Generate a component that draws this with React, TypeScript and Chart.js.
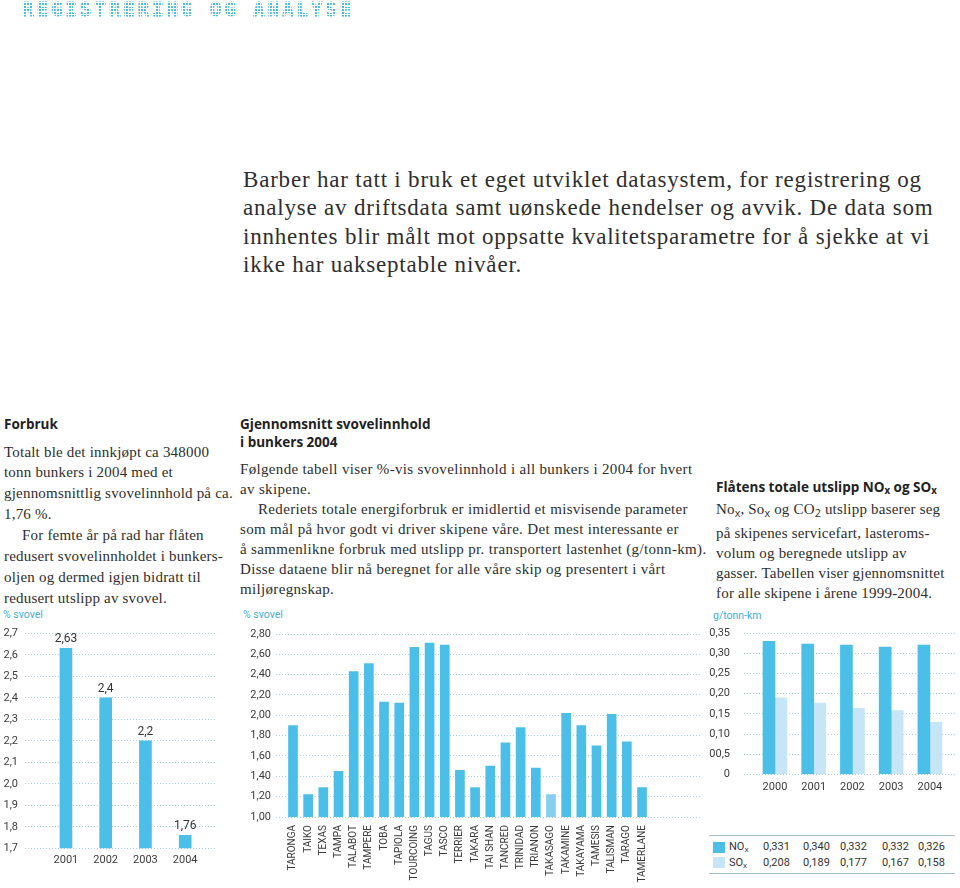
import React, { useEffect, useRef } from 'react';
import { Chart, registerables } from 'chart.js';

Chart.register(...registerables);

// ---------- Chart 1: % svovel per year ----------
const sulphurYears = [2001, 2002, 2003, 2004];
const sulphurByYear = [2.63, 2.4, 2.2, 1.76];
const sulphurYearTicks = [1.7, 1.8, 1.9, 2.0, 2.1, 2.2, 2.3, 2.4, 2.5, 2.6, 2.7];
const sulphurYearTickLabels = ['1,7', '1,8', '1,9', '2,0', '2,1', '2,2', '2,3', '2,4', '2,5', '2,6', '2,7'];

// ---------- Chart 2: % svovel per ship 2004 ----------
const ships = [
  'TARONGA', 'TAIKO', 'TEXAS', 'TAMPA', 'TALABOT', 'TAMPERE', 'TOBA', 'TAPIOLA',
  'TOURCOING', 'TAGUS', 'TASCO', 'TERRIER', 'TAKARA', 'TAI SHAN', 'TANCRED', 'TRINIDAD',
  'TRIANON', 'TAKASAGO', 'TAKAMINE', 'TAKAYAMA', 'TAMESIS', 'TALISMAN', 'TARAGO', 'TAMERLANE',
];
const shipSulphur = [
  1.90, 1.22, 1.29, 1.45, 2.43, 2.51, 2.13, 2.12,
  2.67, 2.71, 2.69, 1.46, 1.29, 1.50, 1.73, 1.88,
  1.48, 1.22, 2.02, 1.90, 1.70, 2.01, 1.74, 1.29,
];
const highlightedShip = 'TAKASAGO';
const shipTicks = [1.0, 1.2, 1.4, 1.6, 1.8, 2.0, 2.2, 2.4, 2.6, 2.8];
const shipTickLabels = ['1,00', '1,20', '1,40', '1,60', '1,80', '2,00', '2,20', '2,40', '2,60', '2,80'];

// ---------- Chart 3: NOx / SOx g/tonn-km ----------
const emissionYears = [2000, 2001, 2002, 2003, 2004];
const noxBars = [0.330, 0.323, 0.321, 0.316, 0.321];
const soxBars = [0.190, 0.177, 0.164, 0.158, 0.129];
const emissionTicks = [0, 0.05, 0.1, 0.15, 0.2, 0.25, 0.3, 0.35];
const emissionTickLabels = ['0', '00,5', '0,10', '0,15', '0,20', '0,25', '0,30', '0,35'];
const noxTable = ['0,331', '0,340', '0,332', '0,332', '0,326'];
const soxTable = ['0,208', '0,189', '0,177', '0,167', '0,158'];

// ---------- styles ----------
const BAR = '#4cbfe8';
const BAR_LIGHT = '#c6e6f8';
const BAR_HL = '#86cff1';
const GRID = '#a9d3e1';
const TICK = '#3c3c3c';
const ACCENT = '#43aed3';
const SANS = 'Roboto, "DejaVu Sans", sans-serif';
const HEAD = '"Open Sans", Roboto, sans-serif';
const SERIF = '"Liberation Serif", "DejaVu Serif", serif';

const comma = (v: number) => String(v).replace('.', ',');

function fixY(width: number) {
  return (s: any) => {
    s.width = width;
    s.paddingTop = 0;
    s.paddingBottom = 0;
    s.paddingLeft = 0;
    s.paddingRight = 0;
  };
}
function fixX(height: number) {
  return (s: any) => {
    s.height = height;
    s.paddingLeft = 0;
    s.paddingRight = 0;
    s.paddingTop = 0;
    s.paddingBottom = 0;
  };
}

function yScale(min: number, max: number, ticks: number[], labels: string[], width: number, pad: number) {
  return {
    type: 'linear',
    min,
    max,
    afterBuildTicks: (s: any) => {
      s.ticks = ticks.map((v) => ({ value: v }));
    },
    afterFit: fixY(width),
    ticks: {
      padding: pad,
      color: TICK,
      font: { family: SANS, size: 11 },
      callback: (_v: any, i: number) => labels[i],
    },
    grid: { color: GRID, lineWidth: 1, drawTicks: false },
    border: { display: false, dash: [1, 2] },
  };
}

function xScale(min: number, max: number, values: number[], labels: string[], height: number, pad: number, extra: any = {}) {
  return {
    type: 'linear',
    min,
    max,
    offset: false,
    afterBuildTicks: (s: any) => {
      s.ticks = values.map((v) => ({ value: v }));
    },
    afterFit: fixX(height),
    ticks: {
      padding: pad,
      color: TICK,
      autoSkip: false,
      font: { family: SANS, size: extra.size || 11 },
      minRotation: extra.rotation || 0,
      maxRotation: extra.rotation || 0,
      callback: (_v: any, i: number) => labels[i],
    },
    grid: { display: false, drawTicks: false, offset: false },
    border: { display: false },
  };
}

const valueLabelPlugin = {
  id: 'valueLabels',
  afterDatasetsDraw(chart: any) {
    const ctx = chart.ctx;
    const meta = chart.getDatasetMeta(0);
    ctx.save();
    ctx.font = `12px ${SANS}`;
    ctx.fillStyle = '#333';
    ctx.textAlign = 'center';
    ctx.textBaseline = 'middle';
    meta.data.forEach((bar: any, i: number) => {
      ctx.fillText(comma(sulphurByYear[i]), bar.x, bar.y - 9);
    });
    ctx.restore();
  },
};

function useChart(build: () => any) {
  const ref = useRef<HTMLCanvasElement | null>(null);
  useEffect(() => {
    if (!ref.current) return;
    const chart = new Chart(ref.current, build());
    return () => chart.destroy();
  }, []);
  return ref;
}

function YearChart() {
  const ref = useChart(() => ({
    type: 'bar',
    data: {
      datasets: [
        {
          data: sulphurYears.map((x, i) => ({ x, y: sulphurByYear[i] })),
          backgroundColor: BAR,
          barThickness: 12,
        },
      ],
    },
    options: {
      animation: false,
      responsive: false,
      layout: { padding: { left: 0, right: 15, top: 28.3, bottom: 9.7 } },
      plugins: { legend: { display: false }, tooltip: { enabled: false } },
      scales: {
        x: xScale(1999.97, 2004.75, sulphurYears, sulphurYears.map(String), 30, 5),
        y: yScale(1.7, 2.7, sulphurYearTicks, sulphurYearTickLabels, 25, 7),
      },
    },
    plugins: [valueLabelPlugin],
  }));
  return <canvas ref={ref} width={230} height={283} style={{ width: 230, height: 283, display: 'block' }} />;
}

function ShipChart() {
  const ref = useChart(() => ({
    type: 'bar',
    data: {
      datasets: [
        {
          data: ships.map((_n, i) => ({ x: i, y: shipSulphur[i] })),
          backgroundColor: ships.map((n) => (n === highlightedShip ? BAR_HL : BAR)),
          barThickness: 9,
        },
      ],
    },
    options: {
      animation: false,
      responsive: false,
      layout: { padding: { left: 0, right: 0, top: 29, bottom: 0 } },
      plugins: { legend: { display: false }, tooltip: { enabled: false } },
      scales: {
        x: xScale(-1.12, 26.82, ships.map((_n, i) => i), ships, 71, 8, { rotation: 90, size: 10 }),
        y: yScale(1.0, 2.8, shipTicks, shipTickLabels, 41, 5),
      },
    },
  }));
  return <canvas ref={ref} width={465} height={283} style={{ width: 465, height: 283, display: 'block' }} />;
}

function EmissionChart() {
  const ref = useChart(() => ({
    type: 'bar',
    data: {
      datasets: [
        {
          label: 'NOx',
          data: emissionYears.map((x, i) => ({ x, y: noxBars[i] })),
          backgroundColor: BAR,
          barThickness: 12,
        },
        {
          label: 'SOx',
          data: emissionYears.map((x, i) => ({ x, y: soxBars[i] })),
          backgroundColor: BAR_LIGHT,
          barThickness: 12,
        },
      ],
    },
    options: {
      animation: false,
      responsive: false,
      layout: { padding: { left: 0, right: 3, top: 28.3, bottom: 0 } },
      plugins: { legend: { display: false }, tooltip: { enabled: false } },
      scales: {
        x: xScale(1999.2, 2004.7, emissionYears, emissionYears.map(String), 25.7, 6.8),
        y: yScale(0, 0.35, emissionTicks, emissionTickLabels, 44, 14),
      },
    },
  }));
  return <canvas ref={ref} width={260} height={195} style={{ width: 260, height: 195, display: 'block' }} />;
}

const abs = (left: number, top: number, extra: React.CSSProperties = {}): React.CSSProperties => ({
  position: 'absolute',
  left,
  top,
  whiteSpace: 'nowrap',
  ...extra,
});

const sub: React.CSSProperties = { fontFamily: HEAD, fontSize: '0.72em', verticalAlign: '-0.25em', letterSpacing: 0 };

function Lines({ lines, left, top, lh, style }: { lines: React.ReactNode[]; left: number; top: number; lh: number; style: React.CSSProperties }) {
  return (
    <div style={abs(left, top, { lineHeight: `${lh}px`, ...style })}>
      {lines.map((l, i) => (
        <div key={i}>{l}</div>
      ))}
    </div>
  );
}

export default function App() {
  const body: React.CSSProperties = { fontFamily: SERIF, fontSize: 15, color: '#2e2e2e', letterSpacing: 0.2 };
  const body2: React.CSSProperties = { ...body, letterSpacing: 0.33 };
  const head: React.CSSProperties = { fontFamily: HEAD, fontSize: 13.5, fontWeight: 700, color: '#222', lineHeight: '18px' };
  const axisTitle: React.CSSProperties = { fontFamily: SANS, fontSize: 10.5, color: ACCENT, lineHeight: '12px' };
  const tableText: React.CSSProperties = { fontFamily: SANS, fontSize: 11, color: '#333', lineHeight: '13px' };
  const cols = [763, 803, 840, 882, 918];

  return (
    <div style={{ position: 'absolute', left: 0, top: 0, width: 960, height: 888, overflow: 'hidden', background: '#fff' }}>
      {/* dotted title: solid text with a white dot-matrix mask laid over it */}
      <div
        style={abs(22, 0, {
          fontFamily: '"DejaVu Sans Mono", monospace',
          fontWeight: 700,
          fontSize: 19,
          lineHeight: '19px',
          letterSpacing: 3,
          color: '#48bce2',
          WebkitTextStroke: '0.8px #48bce2',
        })}
      >
        REGISTRERING OG ANALYSE
      </div>
      <div
        style={abs(18, 0, {
          width: 345,
          height: 20,
          backgroundImage:
            'repeating-linear-gradient(90deg, rgba(255,255,255,0) 0px, rgba(255,255,255,0) 2px, #fff 2px, #fff 3px), repeating-linear-gradient(0deg, rgba(255,255,255,0) 0px, rgba(255,255,255,0) 2px, #fff 2px, #fff 3px)',
        })}
      />

      {/* intro */}
      <Lines
        left={243}
        top={166}
        lh={28.3}
        style={{ fontFamily: SERIF, fontSize: 23, letterSpacing: 0.8, color: '#2e2e2e' }}
        lines={[
          'Barber har tatt i bruk et eget utviklet datasystem, for registrering og',
          'analyse av driftsdata samt uønskede hendelser og avvik. De data som',
          'innhentes blir målt mot oppsatte kvalitetsparametre for å sjekke at vi',
          'ikke har uakseptable nivåer.',
        ]}
      />

      {/* section 1 */}
      <div style={abs(4, 415, head)}>Forbruk</div>
      <Lines
        left={4}
        top={441.5}
        lh={20.9}
        style={body}
        lines={[
          'Totalt ble det innkjøpt ca 348000',
          'tonn bunkers i 2004 med et',
          'gjennomsnittlig svovelinnhold på ca.',
          '1,76 %.',
          <span style={{ paddingLeft: 18 }}>For femte år på rad har flåten</span>,
          'redusert svovelinnholdet i bunkers-',
          'oljen og dermed igjen bidratt til',
          'redusert utslipp av svovel.',
        ]}
      />

      {/* section 2 */}
      <Lines left={240} top={415} lh={18} style={head} lines={['Gjennomsnitt svovelinnhold', 'i bunkers 2004']} />
      <Lines
        left={240}
        top={459}
        lh={20}
        style={body2}
        lines={[
          'Følgende tabell viser %-vis svovelinnhold i all bunkers i 2004 for hvert',
          'av skipene.',
          <span style={{ paddingLeft: 18 }}>Rederiets totale energiforbruk er imidlertid et misvisende parameter</span>,
          'som mål på hvor godt vi driver skipene våre. Det mest interessante er',
          'å sammenlikne forbruk med utslipp pr. transportert lastenhet (g/tonn-km).',
          'Disse dataene blir nå beregnet for alle våre skip og presentert i vårt',
          'miljøregnskap.',
        ]}
      />

      {/* section 3 */}
      <div style={abs(716, 478, head)}>
        Flåtens totale utslipp NO<span style={sub}>x</span> og SO<span style={sub}>x</span>
      </div>
      <Lines
        left={716}
        top={499}
        lh={20}
        style={body}
        lines={[
          <span>
            No<span style={sub}>x</span>, So<span style={sub}>x</span> og CO<span style={sub}>2</span> utslipp baserer seg
          </span>,
          'på skipenes servicefart, lasteroms-',
          'volum og beregnede utslipp av',
          'gasser. Tabellen viser gjennomsnittet',
          'for alle skipene i årene 1999-2004.',
        ]}
      />

      {/* axis titles */}
      <div style={abs(3, 609, axisTitle)}>% svovel</div>
      <div style={abs(243, 609, axisTitle)}>% svovel</div>
      <div style={abs(713, 610, axisTitle)}>g/tonn-km</div>

      {/* charts */}
      <div style={abs(0, 605)}>
        <YearChart />
      </div>
      <div style={abs(235, 605)}>
        <ShipChart />
      </div>
      <div style={abs(700, 605)}>
        <EmissionChart />
      </div>

      {/* table */}
      <div style={abs(709, 835, { width: 246, height: 0, borderTop: '1.5px solid #a3bfc7' })} />
      <div style={abs(709, 873, { width: 246, height: 0, borderTop: '1.5px solid #a3bfc7' })} />
      <div style={abs(713, 842, { width: 12, height: 11, background: BAR })} />
      <div style={abs(713, 857, { width: 12, height: 11, background: BAR_LIGHT })} />
      <div style={abs(729, 840, tableText)}>
        NO<span style={sub}>x</span>
      </div>
      <div style={abs(729, 856, tableText)}>
        SO<span style={sub}>x</span>
      </div>
      {noxTable.map((t, i) => (
        <div key={'n' + i} style={abs(cols[i], 840, tableText)}>
          {t}
        </div>
      ))}
      {soxTable.map((t, i) => (
        <div key={'s' + i} style={abs(cols[i], 856, tableText)}>
          {t}
        </div>
      ))}
    </div>
  );
}
